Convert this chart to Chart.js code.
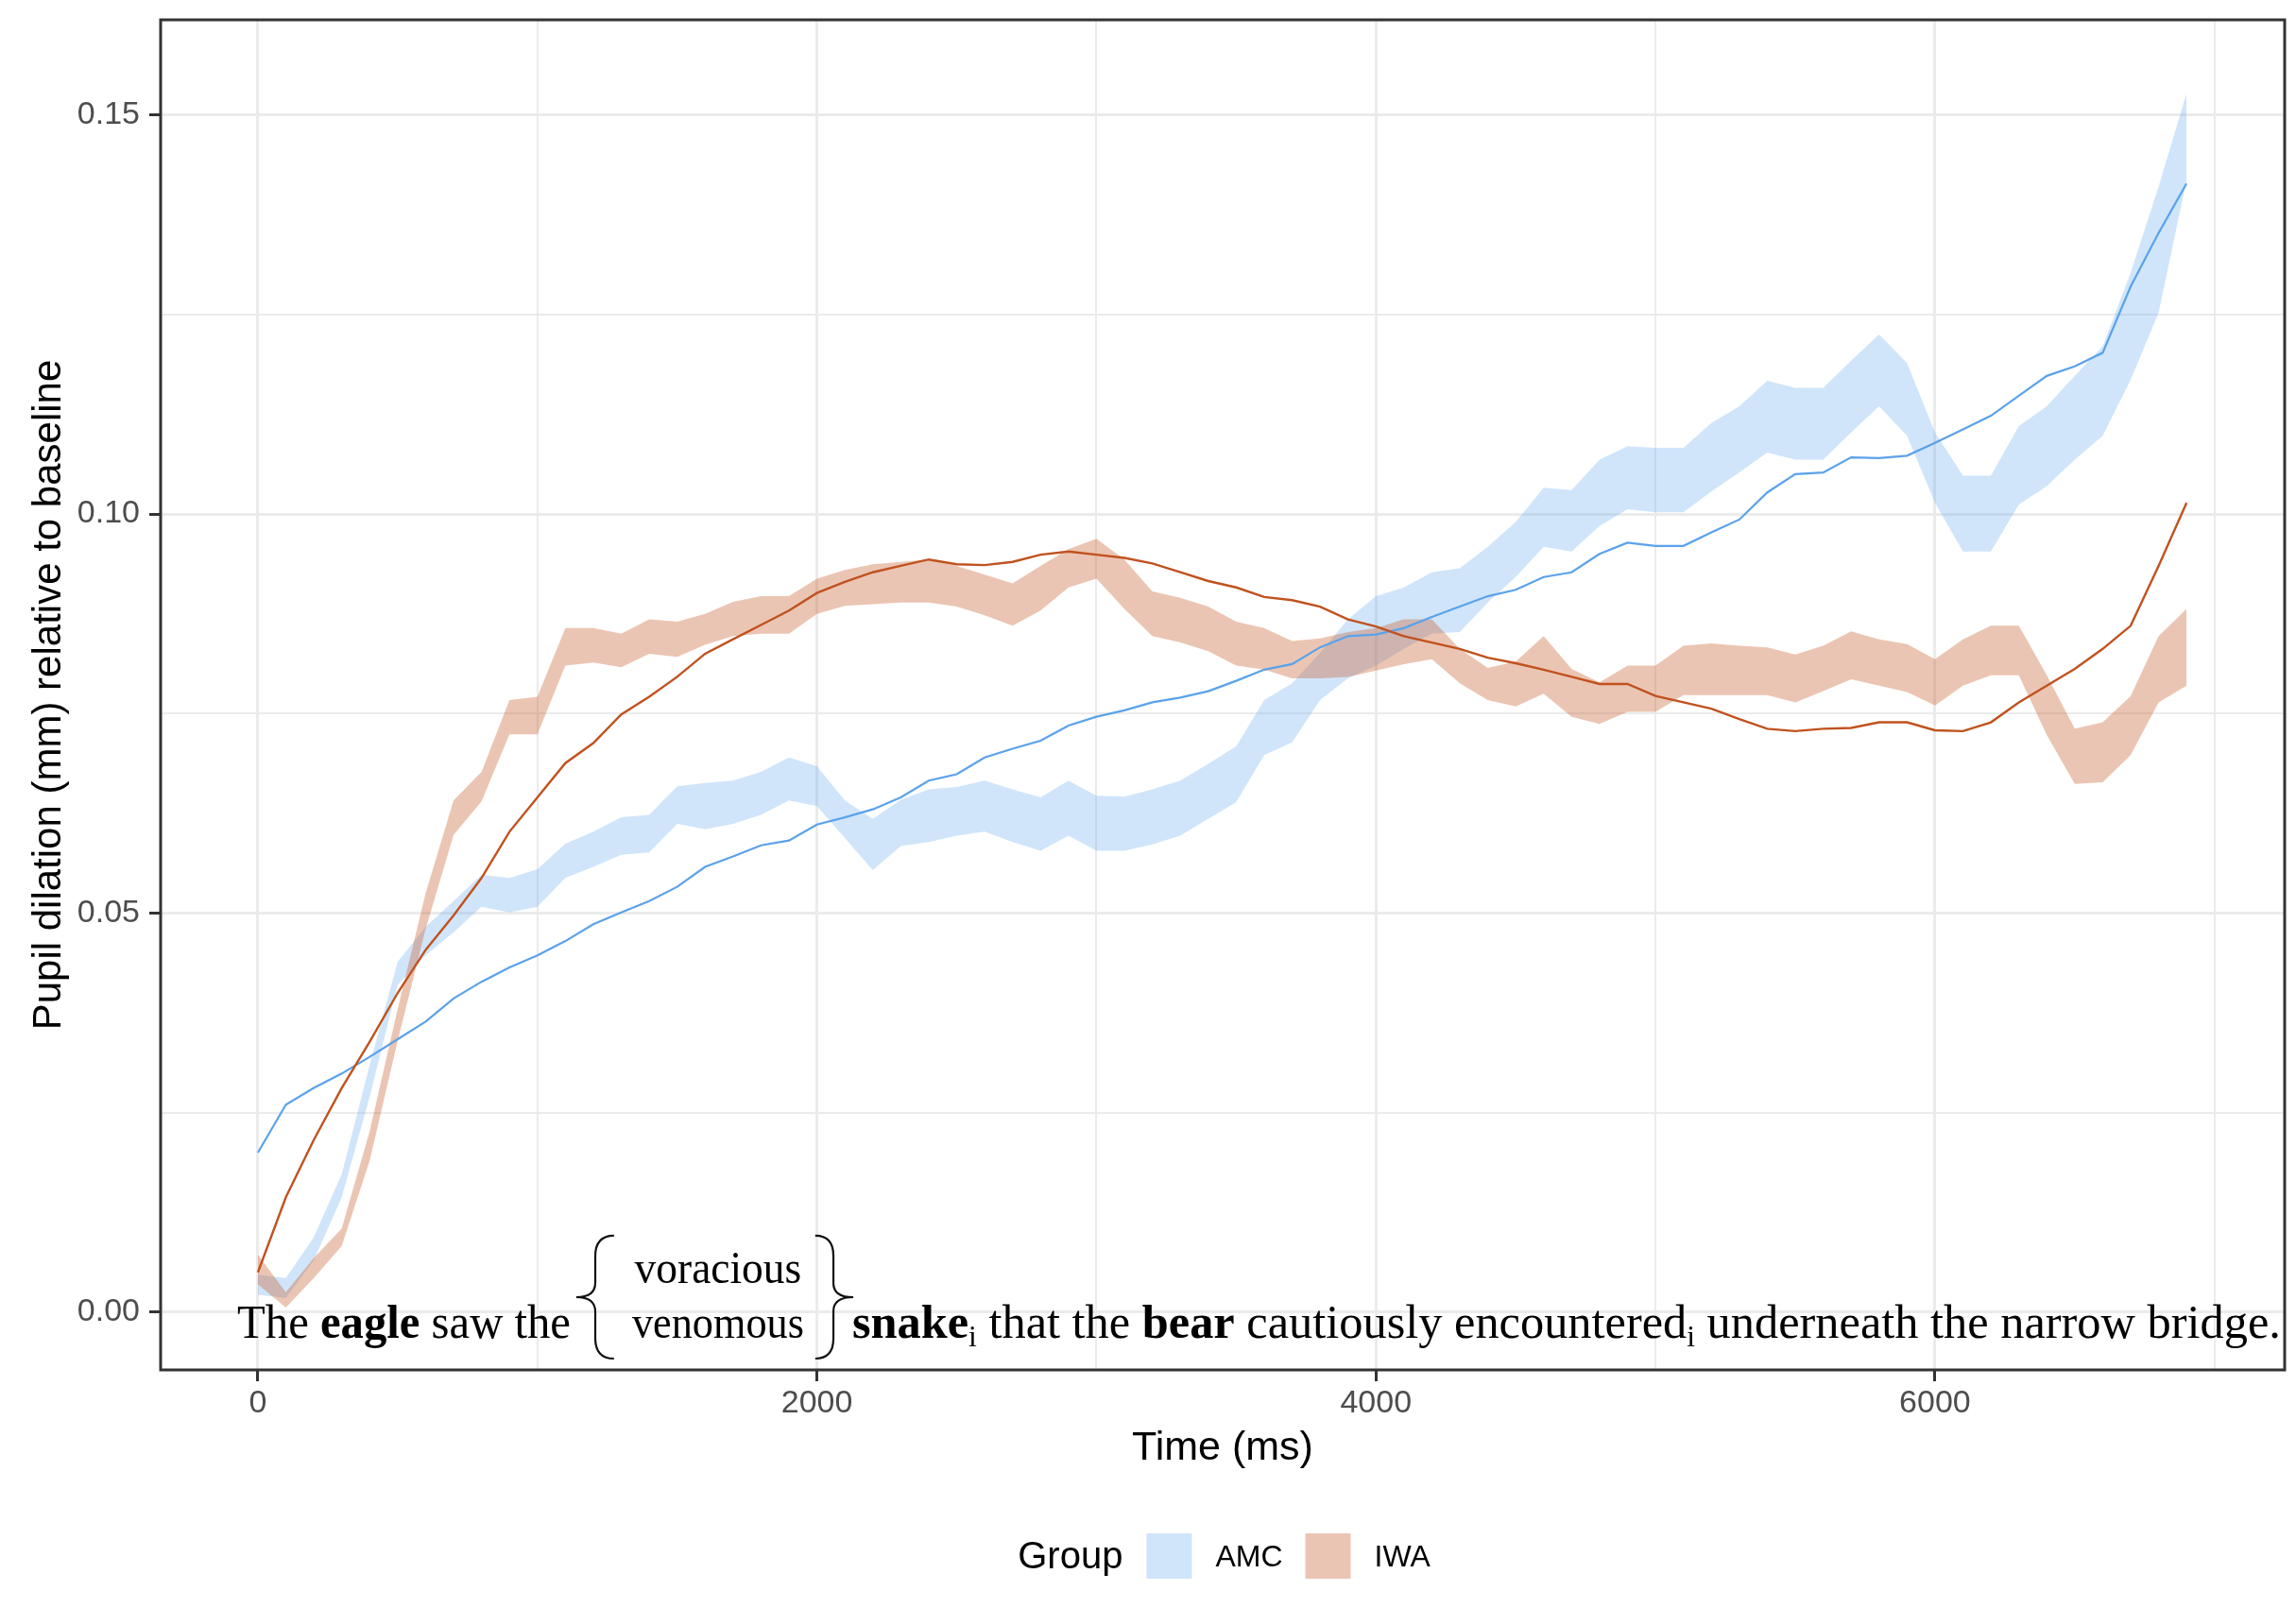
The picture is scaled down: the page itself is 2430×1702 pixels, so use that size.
<!DOCTYPE html>
<html>
<head>
<meta charset="utf-8">
<title>Pupil dilation by group</title>
<script src="https://cdn.jsdelivr.net/npm/chart.js@4.4.1/dist/chart.umd.min.js"></script>
<style>
  html, body { margin: 0; padding: 0; background: #fff; }
  #wrap { width: 2430px; height: 1702px; }
</style>
</head>
<body>
<div id="wrap"><canvas id="chart" width="2430" height="1702"></canvas></div>
<script>
// time points (ms)
const times = [
  0, 100, 200, 300, 400, 500, 600, 700, 800, 900,
  1000, 1100, 1200, 1300, 1400, 1500, 1600, 1700, 1800, 1900,
  2000, 2100, 2200, 2300, 2400, 2500, 2600, 2700, 2800, 2900,
  3000, 3100, 3200, 3300, 3400, 3500, 3600, 3700, 3800, 3900,
  4000, 4100, 4200, 4300, 4400, 4500, 4600, 4700, 4800, 4900,
  5000, 5100, 5200, 5300, 5400, 5500, 5600, 5700, 5800, 5900,
  6000, 6100, 6200, 6300, 6400, 6500, 6600, 6700, 6800, 6900
];

// AMC: fitted line and ribbon bounds
const amcMean = [
  0.0200, 0.0260, 0.0281, 0.0299, 0.0320, 0.0342, 0.0364, 0.0393, 0.0414, 0.0432,
  0.0447, 0.0465, 0.0486, 0.0501, 0.0515, 0.0533, 0.0558, 0.0571, 0.0585, 0.0591,
  0.0611, 0.0620, 0.0630, 0.0645, 0.0666, 0.0674, 0.0695, 0.0706, 0.0716, 0.0735,
  0.0746, 0.0754, 0.0764, 0.0770, 0.0778, 0.0791, 0.0805, 0.0812, 0.0833, 0.0847,
  0.0849, 0.0857, 0.0871, 0.0884, 0.0897, 0.0905, 0.0921, 0.0927, 0.0950, 0.0964,
  0.0960, 0.0960, 0.0977, 0.0993, 0.1027, 0.1050, 0.1052, 0.1071, 0.1070, 0.1073,
  0.1089, 0.1106, 0.1123, 0.1148, 0.1173, 0.1185, 0.1202, 0.1285, 0.1352, 0.1414
];
const amcHigh = [
  0.0047, 0.0043, 0.0094, 0.0173, 0.0310, 0.0439, 0.0483, 0.0515, 0.0548, 0.0544,
  0.0555, 0.0587, 0.0602, 0.0620, 0.0623, 0.0659, 0.0663, 0.0666, 0.0677, 0.0695,
  0.0684, 0.0641, 0.0618, 0.0642, 0.0655, 0.0658, 0.0666, 0.0655, 0.0645, 0.0666,
  0.0647, 0.0646, 0.0655, 0.0666, 0.0687, 0.0709, 0.0767, 0.0788, 0.0826, 0.0868,
  0.0897, 0.0908, 0.0927, 0.0932, 0.0959, 0.0990, 0.1033, 0.1030, 0.1068, 0.1085,
  0.1083, 0.1083, 0.1114, 0.1135, 0.1167, 0.1158, 0.1158, 0.1192, 0.1225, 0.1189,
  0.1102, 0.1048, 0.1048, 0.1110, 0.1135, 0.1173, 0.1210, 0.1302, 0.1410, 0.1527
];
const amcLow = [
  0.0022, 0.0018, 0.0065, 0.0144, 0.0270, 0.0410, 0.0447, 0.0476, 0.0508, 0.0501,
  0.0508, 0.0544, 0.0558, 0.0573, 0.0576, 0.0612, 0.0605, 0.0612, 0.0623, 0.0641,
  0.0634, 0.0594, 0.0554, 0.0584, 0.0589, 0.0597, 0.0602, 0.0589, 0.0578, 0.0597,
  0.0578, 0.0578, 0.0586, 0.0597, 0.0618, 0.0639, 0.0698, 0.0714, 0.0767, 0.0794,
  0.0810, 0.0831, 0.0850, 0.0852, 0.0889, 0.0921, 0.0959, 0.0953, 0.0985, 0.1006,
  0.1002, 0.1002, 0.1028, 0.1052, 0.1077, 0.1068, 0.1068, 0.1102, 0.1135, 0.1098,
  0.1014, 0.0953, 0.0953, 0.1012, 0.1035, 0.1068, 0.1098, 0.1168, 0.1252, 0.1418
];

// IWA: fitted line and ribbon bounds
const iwaMean = [
  0.0050, 0.0144, 0.0216, 0.0281, 0.0339, 0.0400, 0.0454, 0.0497, 0.0544, 0.0602,
  0.0645, 0.0688, 0.0713, 0.0749, 0.0771, 0.0796, 0.0825, 0.0843, 0.0861, 0.0879,
  0.0901, 0.0915, 0.0927, 0.0935, 0.0943, 0.0937, 0.0936, 0.0940, 0.0949, 0.0953,
  0.0949, 0.0945, 0.0938, 0.0927, 0.0916, 0.0908, 0.0896, 0.0892, 0.0884, 0.0868,
  0.0859, 0.0847, 0.0839, 0.0831, 0.0820, 0.0813, 0.0805, 0.0796, 0.0787, 0.0787,
  0.0772, 0.0764, 0.0756, 0.0743, 0.0731, 0.0728, 0.0731, 0.0732, 0.0739, 0.0739,
  0.0729, 0.0728, 0.0739, 0.0764, 0.0785, 0.0806, 0.0831, 0.0860, 0.0935, 0.1014
];
const iwaHigh = [
  0.0072, 0.0025, 0.0068, 0.0105, 0.0227, 0.0380, 0.0525, 0.0641, 0.0677, 0.0767,
  0.0771, 0.0857, 0.0857, 0.0850, 0.0868, 0.0865, 0.0875, 0.0890, 0.0897, 0.0897,
  0.0919, 0.0930, 0.0937, 0.0940, 0.0943, 0.0935, 0.0924, 0.0913, 0.0935, 0.0956,
  0.0969, 0.0943, 0.0903, 0.0895, 0.0884, 0.0865, 0.0857, 0.0841, 0.0844, 0.0852,
  0.0857, 0.0868, 0.0868, 0.0831, 0.0807, 0.0815, 0.0847, 0.0806, 0.0789, 0.0810,
  0.0810, 0.0835, 0.0838, 0.0835, 0.0833, 0.0824, 0.0835, 0.0853, 0.0843, 0.0837,
  0.0818, 0.0843, 0.0860, 0.0860, 0.0798, 0.0731, 0.0739, 0.0772, 0.0847, 0.0881
];
const iwaLow = [
  0.0035, 0.0006, 0.0043, 0.0083, 0.0190, 0.0340, 0.0480, 0.0598, 0.0640, 0.0724,
  0.0724, 0.0810, 0.0814, 0.0808, 0.0825, 0.0821, 0.0836, 0.0847, 0.0850, 0.0850,
  0.0875, 0.0885, 0.0887, 0.0889, 0.0889, 0.0884, 0.0873, 0.0860, 0.0879, 0.0908,
  0.0919, 0.0881, 0.0847, 0.0839, 0.0828, 0.0810, 0.0805, 0.0794, 0.0794, 0.0796,
  0.0804, 0.0812, 0.0818, 0.0788, 0.0767, 0.0759, 0.0775, 0.0746, 0.0737, 0.0752,
  0.0752, 0.0773, 0.0773, 0.0773, 0.0773, 0.0764, 0.0778, 0.0793, 0.0785, 0.0777,
  0.0760, 0.0785, 0.0798, 0.0798, 0.0723, 0.0662, 0.0664, 0.0698, 0.0764, 0.0785
];

// grid / tick positions (every other one is labelled)
const xGrid = [0, 1000, 2000, 3000, 4000, 5000, 6000, 7000];
const yGrid = [0, 0.025, 0.05, 0.075, 0.10, 0.125, 0.15];
const groups = ['AMC', 'IWA'];

const SANS = '"Liberation Sans", Arial, sans-serif';
const SERIF = '"Liberation Serif", "Times New Roman", serif';

const amcFill = 'rgba(110,175,240,0.32)';
const iwaFill = 'rgba(200,95,45,0.36)';
const amcLine = '#5AA2EA';
const iwaLine = '#C0521E';

const pts = ys => times.map((t, i) => ({ x: t, y: ys[i] }));

// the sentence drawn inside the panel, anchored in data units
const sentence = {
  baseline: -0.0032,
  upperBaseline: 0.00367,
  pre: { from: -74, to: 1119, segs: [['The ', 0], ['eagle', 1], [' saw the', 0]] },
  options: { center: 1646, words: ['voracious', 'venomous'], width: 182 },
  braceL: { tip: 1139, stem: 1207, end: 1274 },
  braceR: { tip: 2130, stem: 2059, end: 1994 },
  braceTop: 0.00959, braceMid: 0.00189, braceBot: -0.0058,
  post: { from: 2126, to: 7237, segs: [['snake', 1], ['i', 2], [' that the ', 0], ['bear', 1],
    [' cautiously encountered', 0], ['i', 2], [' underneath the narrow bridge.', 0]] }
};

function segFont(kind) {
  if (kind === 2) return '30px ' + SERIF;
  return (kind === 1 ? 'bold ' : '') + '48px ' + SERIF;
}

function drawRun(ctx, segs, x0, x1, y) {
  let total = 0;
  const widths = segs.map(s => {
    ctx.font = segFont(s[1]);
    const w = ctx.measureText(s[0]).width;
    total += w;
    return w;
  });
  const k = (x1 - x0) / total;
  ctx.save();
  ctx.translate(x0, y);
  ctx.scale(k, 1.04);
  let x = 0;
  segs.forEach((s, i) => {
    ctx.font = segFont(s[1]);
    ctx.fillText(s[0], x, s[1] === 2 ? 9 : 0);
    x += widths[i];
  });
  ctx.restore();
}

function drawBrace(ctx, b, yTop, yMid, yBot) {
  const r = Math.abs(b.end - b.stem) + 2;
  ctx.beginPath();
  ctx.moveTo(b.end, yTop);
  ctx.quadraticCurveTo(b.stem, yTop, b.stem, yTop + r);
  ctx.lineTo(b.stem, yMid - r * 0.7);
  ctx.quadraticCurveTo(b.stem, yMid, b.tip, yMid);
  ctx.quadraticCurveTo(b.stem, yMid, b.stem, yMid + r * 0.7);
  ctx.lineTo(b.stem, yBot - r);
  ctx.quadraticCurveTo(b.stem, yBot, b.end, yBot);
  ctx.stroke();
}

const sentencePlugin = {
  id: 'sentence',
  afterDatasetsDraw(chart) {
    const { ctx, scales: { x, y } } = chart;
    const px = v => x.getPixelForValue(v);
    const py = v => y.getPixelForValue(v);
    const s = sentence;
    ctx.save();
    ctx.fillStyle = '#000';
    ctx.strokeStyle = '#111';
    ctx.lineWidth = 2.2;
    ctx.textBaseline = 'alphabetic';
    ctx.textAlign = 'left';
    drawRun(ctx, s.pre.segs, px(s.pre.from), px(s.pre.to), py(s.baseline));
    drawRun(ctx, s.post.segs, px(s.post.from), px(s.post.to), py(s.baseline));
    ctx.textAlign = 'center';
    ctx.font = segFont(0);
    ctx.fillText(s.options.words[0], px(s.options.center), py(s.upperBaseline), s.options.width * 0.97);
    ctx.fillText(s.options.words[1], px(s.options.center), py(s.baseline), s.options.width);
    const bl = { tip: px(s.braceL.tip), stem: px(s.braceL.stem), end: px(s.braceL.end) };
    const br = { tip: px(s.braceR.tip), stem: px(s.braceR.stem), end: px(s.braceR.end) };
    drawBrace(ctx, bl, py(s.braceTop), py(s.braceMid), py(s.braceBot));
    drawBrace(ctx, br, py(s.braceTop), py(s.braceMid), py(s.braceBot));
    ctx.restore();
  }
};

// panel border drawn over the data, like theme_bw
const borderPlugin = {
  id: 'panelBorder',
  afterDatasetsDraw(chart) {
    const { ctx, chartArea: a } = chart;
    ctx.save();
    ctx.strokeStyle = '#333333';
    ctx.lineWidth = 3;
    ctx.strokeRect(a.left, a.top, a.right - a.left, a.bottom - a.top);
    ctx.restore();
  }
};

// "Group [key] AMC [key] IWA" row under the axis title
const legendPlugin = {
  id: 'groupLegend',
  afterDraw(chart) {
    const { ctx, chartArea: a } = chart;
    const fills = [chart.data.datasets[0].backgroundColor, chart.data.datasets[2].backgroundColor];
    const cy = a.bottom + 197;
    const key = 48;
    ctx.save();
    ctx.textBaseline = 'middle';
    ctx.textAlign = 'left';
    ctx.font = '40px ' + SANS;
    const titleW = ctx.measureText('Group').width;
    ctx.font = '32px ' + SANS;
    const labW = groups.map(g => ctx.measureText(g).width);
    const total = titleW + groups.length * (25 + key + 25) + labW.reduce((p, c) => p + c, 0) + 24 * (groups.length - 1);
    let x = (a.left + a.right) / 2 + 14 - total / 2;
    ctx.fillStyle = '#000';
    ctx.font = '40px ' + SANS;
    ctx.fillText('Group', x, cy + 2);
    x += titleW + 25;
    groups.forEach((g, i) => {
      ctx.fillStyle = fills[i];
      ctx.fillRect(x, cy - key / 2, key, key);
      x += key + 25;
      ctx.fillStyle = '#000';
      ctx.font = '32px ' + SANS;
      ctx.fillText(g, x, cy + 2);
      x += labW[i] + 24;
    });
    ctx.restore();
  }
};

const isMajor = c => c.index % 2 === 0;

new Chart(document.getElementById('chart'), {
  type: 'line',
  data: {
    datasets: [
      { label: 'AMC ribbon', data: pts(amcHigh), fill: '+1', backgroundColor: amcFill,
        borderWidth: 0, borderColor: 'rgba(0,0,0,0)', pointRadius: 0, order: 3 },
      { label: 'AMC low', data: pts(amcLow), fill: false, borderWidth: 0,
        borderColor: 'rgba(0,0,0,0)', pointRadius: 0, order: 3 },
      { label: 'IWA ribbon', data: pts(iwaHigh), fill: '+1', backgroundColor: iwaFill,
        borderWidth: 0, borderColor: 'rgba(0,0,0,0)', pointRadius: 0, order: 2 },
      { label: 'IWA low', data: pts(iwaLow), fill: false, borderWidth: 0,
        borderColor: 'rgba(0,0,0,0)', pointRadius: 0, order: 2 },
      { label: 'AMC', data: pts(amcMean), fill: false, borderColor: amcLine,
        borderWidth: 2.2, pointRadius: 0, order: 1 },
      { label: 'IWA', data: pts(iwaMean), fill: false, borderColor: iwaLine,
        borderWidth: 2.4, pointRadius: 0, order: 0 }
    ]
  },
  options: {
    responsive: false,
    animation: false,
    devicePixelRatio: 1,
    layout: { padding: { left: 0, right: 12, top: 21, bottom: 143 } },
    elements: { line: { tension: 0 } },
    plugins: {
      legend: { display: false },
      tooltip: { enabled: false }
    },
    scales: {
      x: {
        type: 'linear',
        min: -348,
        max: 7251,
        afterBuildTicks: s => { s.ticks = xGrid.map(v => ({ value: v })); },
        afterFit: s => { s.height = 109; s.paddingLeft = 0; s.paddingRight = 0; },
        border: { display: false },
        grid: {
          color: '#EBEBEB',
          lineWidth: c => isMajor(c) ? 3 : 2,
          tickColor: c => isMajor(c) ? '#333333' : 'rgba(0,0,0,0)',
          tickLength: 12,
          tickWidth: 3
        },
        ticks: {
          autoSkip: false,
          maxRotation: 0,
          padding: 3,
          color: '#4D4D4D',
          font: { family: SANS, size: 34 },
          callback: (v, i) => i % 2 === 0 ? String(v) : ''
        },
        title: {
          display: true,
          text: 'Time (ms)',
          color: '#000',
          font: { family: SANS, size: 43 },
          padding: { top: 0, bottom: 0 }
        }
      },
      y: {
        min: -0.00722,
        max: 0.1619,
        afterBuildTicks: s => { s.ticks = yGrid.map(v => ({ value: v })); },
        afterFit: s => { s.width = 170; s.paddingTop = 0; s.paddingBottom = 0; },
        border: { display: false },
        grid: {
          color: '#EBEBEB',
          lineWidth: c => isMajor(c) ? 3 : 2,
          tickColor: c => isMajor(c) ? '#333333' : 'rgba(0,0,0,0)',
          tickLength: 12,
          tickWidth: 3
        },
        ticks: {
          autoSkip: false,
          padding: 10,
          color: '#4D4D4D',
          font: { family: SANS, size: 34 },
          callback: (v, i) => i % 2 === 0 ? v.toFixed(2) : ''
        },
        title: {
          display: true,
          text: 'Pupil dilation (mm) relative to baseline',
          color: '#000',
          font: { family: SANS, size: 42 },
          padding: { top: 27, bottom: 0 }
        }
      }
    }
  },
  plugins: [sentencePlugin, borderPlugin, legendPlugin]
});
</script>
</body>
</html>
